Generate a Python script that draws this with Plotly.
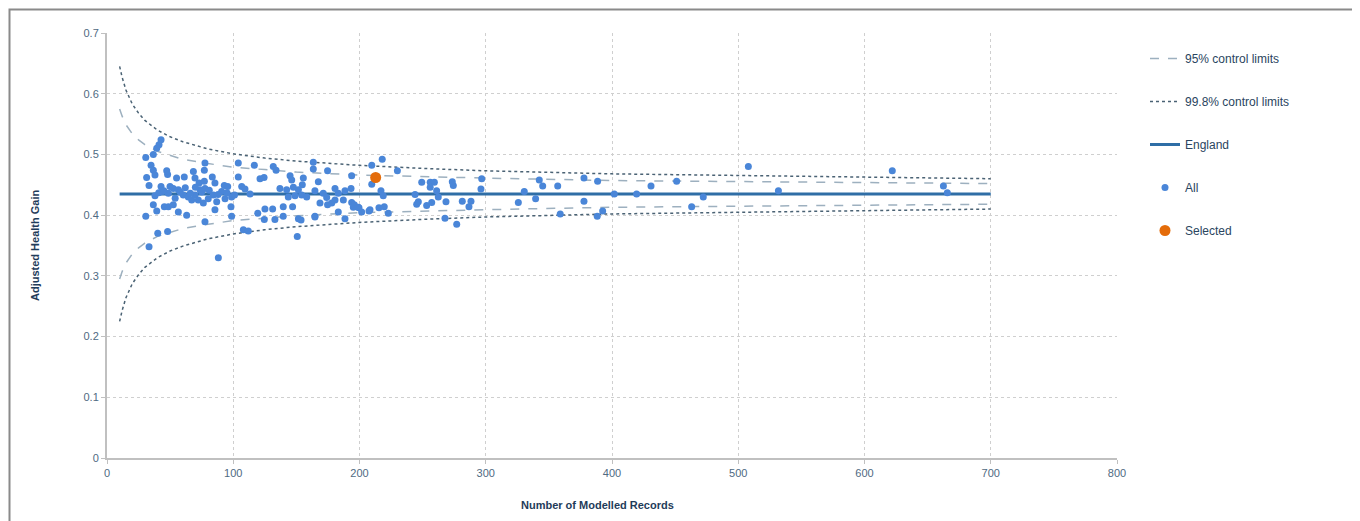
import plotly.graph_objects as go

# ---- data ----
limit_n = [10, 12, 15, 20, 25, 30, 40, 50, 60, 80, 100, 125, 150, 200, 250, 300, 400, 500, 600, 700]
upper_998 = [0.645, 0.627, 0.606, 0.583, 0.568, 0.556, 0.540, 0.529, 0.521, 0.509, 0.501, 0.494, 0.489, 0.482, 0.477, 0.473, 0.468, 0.465, 0.462, 0.460]
lower_998 = [0.225, 0.243, 0.264, 0.287, 0.302, 0.314, 0.330, 0.341, 0.349, 0.361, 0.369, 0.376, 0.381, 0.388, 0.393, 0.397, 0.402, 0.405, 0.408, 0.410]
upper_95 = [0.575, 0.563, 0.549, 0.534, 0.524, 0.516, 0.505, 0.498, 0.492, 0.485, 0.479, 0.475, 0.471, 0.466, 0.463, 0.461, 0.457, 0.455, 0.453, 0.452]
lower_95 = [0.295, 0.307, 0.321, 0.336, 0.346, 0.354, 0.365, 0.372, 0.378, 0.385, 0.391, 0.395, 0.399, 0.404, 0.407, 0.409, 0.413, 0.415, 0.417, 0.418]

england_n = [10, 700]
england_value = [0.435, 0.435]

all_n = [
    42.8, 41.2, 39.4, 36.7, 30.7, 34.9, 36.7, 38.0, 31.4, 33.3,
    48.0, 47.3, 42.8, 43.8, 49.9, 52.5, 48.6, 38.0, 36.7, 39.4,
    45.4, 48.6, 52.5, 30.7, 40.2, 48.0, 33.3, 88.2, 55.1, 61.2,
    68.4, 77.6, 77.1, 56.5, 60.4, 64.4, 67.1, 69.7, 72.9, 77.1,
    73.7, 77.6, 69.7, 72.3, 76.3, 80.2, 84.2, 56.5, 63.1, 77.6,
    83.4, 85.5, 92.9, 90.8, 86.9, 85.5, 93.5, 98.2, 98.7, 104.0,
    104.0, 106.7, 108.0, 95.6, 98.7,
    41, 45, 58, 62, 66, 75, 81, 88, 95, 101, 54, 70,
    109.3, 113.3, 116.7, 121.2, 124.4, 131.7, 133.9, 119.4, 111.9, 125.1,
    131.2, 124.6, 133.0, 139.6, 147.0, 139.6, 151.6, 153.7, 150.7, 145.0,
    146.3, 155.5, 154.7, 163.4, 163.4, 174.7, 167.4, 137.0, 142.3, 147.6,
    151.6, 154.2, 158.2, 143.6, 148.9, 164.7, 171.3, 174.0, 168.7, 174.7,
    180.6, 183.2, 180.6, 178.0, 188.5, 187.2, 193.3, 193.8, 195.9, 199.6,
    193.8, 164.7, 183.2, 188.5, 201.7, 164.7, 195.1, 199.0,
    218.0, 209.7, 209.7, 230.0, 217.0, 218.8, 207.5, 215.4, 219.6, 222.8,
    249.3, 256.0, 259.3, 256.0, 244.0, 246.6, 245.3, 253.2, 257.2, 261.1,
    262.4, 268.5, 274.3, 273.5, 267.7, 277.0, 281.4, 288.3, 286.7, 296.8,
    296.2, 208.3,
    325.8, 330.5, 339.5, 342.4, 345.1, 357.0, 359.0, 377.8, 377.8, 388.6,
    388.3, 392.6, 401.8, 419.5, 430.9, 451.2, 463.1, 472.3, 508.0, 531.8,
    622.0, 662.5, 665.6,
]
all_value = [
    0.524, 0.516, 0.510, 0.500, 0.495, 0.482, 0.474, 0.466, 0.462, 0.449,
    0.467, 0.473, 0.447, 0.439, 0.447, 0.444, 0.436, 0.432, 0.417, 0.407,
    0.414, 0.414, 0.417, 0.398, 0.370, 0.373, 0.348, 0.330, 0.461, 0.463,
    0.472, 0.486, 0.474, 0.442, 0.433, 0.430, 0.425, 0.461, 0.453, 0.456,
    0.442, 0.444, 0.433, 0.425, 0.420, 0.427, 0.433, 0.405, 0.400, 0.389,
    0.463, 0.453, 0.449, 0.439, 0.422, 0.409, 0.427, 0.414, 0.398, 0.486,
    0.463, 0.447, 0.376, 0.447, 0.430,
    0.437, 0.440, 0.438, 0.445, 0.436, 0.438, 0.441, 0.434, 0.437, 0.433, 0.428, 0.446,
    0.443, 0.435, 0.482, 0.460, 0.462, 0.480, 0.474, 0.403, 0.374, 0.410,
    0.410, 0.393, 0.393, 0.414, 0.414, 0.398, 0.394, 0.392, 0.365, 0.465,
    0.458, 0.461, 0.450, 0.487, 0.476, 0.473, 0.455, 0.444, 0.442, 0.446,
    0.442, 0.433, 0.430, 0.430, 0.432, 0.440, 0.436, 0.429, 0.420, 0.417,
    0.444, 0.436, 0.425, 0.420, 0.440, 0.425, 0.444, 0.421, 0.417, 0.412,
    0.465, 0.398, 0.405, 0.394, 0.405, 0.397, 0.413, 0.413,
    0.492, 0.482, 0.451, 0.473, 0.440, 0.432, 0.407, 0.412, 0.414, 0.403,
    0.454, 0.454, 0.454, 0.446, 0.434, 0.422, 0.418, 0.416, 0.421, 0.440,
    0.430, 0.422, 0.449, 0.455, 0.395, 0.385, 0.423, 0.423, 0.414, 0.460,
    0.443, 0.409,
    0.421, 0.439, 0.427, 0.458, 0.448, 0.448, 0.402, 0.461, 0.423, 0.456,
    0.398, 0.407, 0.435, 0.435, 0.448, 0.456, 0.414, 0.430, 0.480, 0.440,
    0.473, 0.448, 0.437,
]
selected_n = [212.8]
selected_value = [0.462]

x_ticks = [0, 100, 200, 300, 400, 500, 600, 700, 800]
y_ticks = [0, 0.1, 0.2, 0.3, 0.4, 0.5, 0.6, 0.7]
y_tick_labels = ["0", "0.1", "0.2", "0.3", "0.4", "0.5", "0.6", "0.7"]

# ---- styles ----
FONT = "Liberation Sans, Arial, sans-serif"
TICK_COLOR = "#4f6a82"
TITLE_COLOR = "#1f3c5a"
C95 = "#9db0bf"
C998 = "#4a6274"
ENG = "#2f6ea6"
BLUE = "#4a86d8"
ORANGE = "#e46c0a"

fig = go.Figure()
fig.add_trace(go.Scatter(x=limit_n, y=upper_95, mode="lines", name="95% control limits",
                         legendgroup="g1", line=dict(color=C95, width=1.5, dash="dash"),
                         hoverinfo="skip"))
fig.add_trace(go.Scatter(x=limit_n, y=lower_95, mode="lines", name="95% control limits",
                         legendgroup="g1", showlegend=False,
                         line=dict(color=C95, width=1.5, dash="dash"), hoverinfo="skip"))
fig.add_trace(go.Scatter(x=limit_n, y=upper_998, mode="lines", name="99.8% control limits",
                         legendgroup="g2", line=dict(color=C998, width=1.5, dash="dot"),
                         hoverinfo="skip"))
fig.add_trace(go.Scatter(x=limit_n, y=lower_998, mode="lines", name="99.8% control limits",
                         legendgroup="g2", showlegend=False,
                         line=dict(color=C998, width=1.5, dash="dot"), hoverinfo="skip"))
fig.add_trace(go.Scatter(x=england_n, y=england_value, mode="lines", name="England",
                         legendgroup="g3", line=dict(color=ENG, width=3)))
fig.add_trace(go.Scatter(x=all_n, y=all_value, mode="markers", name="All",
                         legendgroup="g4", marker=dict(color=BLUE, size=7)))
fig.add_trace(go.Scatter(x=selected_n, y=selected_value, mode="markers", name="Selected",
                         legendgroup="g5", marker=dict(color=ORANGE, size=11)))

# page body has an 8px margin; positions below are given in screenshot pixels
OFF = 8
PLOT_L, PLOT_R, PLOT_T, PLOT_B = 107, 1117, 33, 458
L = PLOT_L - OFF
T = PLOT_T - OFF
PW = PLOT_R - PLOT_L
PH = PLOT_B - PLOT_T
W, H = 1360, 521
R = W - L - PW
B = H - T - PH


def px_x(p):
    return (p - PLOT_L) / PW


def px_y(p):
    return (PLOT_B - p) / PH


fig.update_layout(
    width=W, height=H,
    margin=dict(l=L, r=R, t=T, b=B),
    paper_bgcolor="white", plot_bgcolor="white",
    font=dict(family=FONT, size=11, color=TICK_COLOR),
    showlegend=True,
    legend=dict(x=px_x(1145), y=px_y(44), xanchor="left", yanchor="top",
                font=dict(size=12, color="#2a4560"), tracegroupgap=24,
                bgcolor="rgba(0,0,0,0)", itemwidth=30),
    xaxis=dict(range=[0, 800], tickvals=x_ticks, showgrid=True, gridcolor="#cfcfcf",
               griddash="dot", gridwidth=1, showline=True, linecolor="#c0c0c0", linewidth=2,
               ticks="outside", ticklen=4, tickcolor="#c0c0c0", zeroline=False,
               tickfont=dict(size=11, color=TICK_COLOR)),
    yaxis=dict(range=[0, 0.7], tickvals=y_ticks, ticktext=y_tick_labels, showgrid=True,
               gridcolor="#cfcfcf", griddash="dot", gridwidth=1, showline=True,
               linecolor="#c0c0c0", linewidth=2, ticks="outside", ticklen=4,
               tickcolor="#c0c0c0", zeroline=False, tickfont=dict(size=11, color=TICK_COLOR)),
    annotations=[
        dict(text="<b>Adjusted Health Gain</b>", xref="paper", yref="paper",
             x=px_x(35), y=px_y(245), textangle=-90, showarrow=False,
             font=dict(size=11, color=TITLE_COLOR), xanchor="center", yanchor="middle"),
        dict(text="<b>Number of Modelled Records</b>", xref="paper", yref="paper",
             x=px_x(597), y=px_y(505), showarrow=False,
             font=dict(size=11, color=TITLE_COLOR), xanchor="center", yanchor="middle"),
    ],
    shapes=[
        dict(type="rect", xref="paper", yref="paper", x0=px_x(9.5), x1=px_x(1354),
             y0=px_y(535), y1=px_y(9.5), line=dict(color="#8a8a8a", width=2),
             fillcolor="rgba(0,0,0,0)", layer="below"),
    ],
)

fig.write_html("out.html")
